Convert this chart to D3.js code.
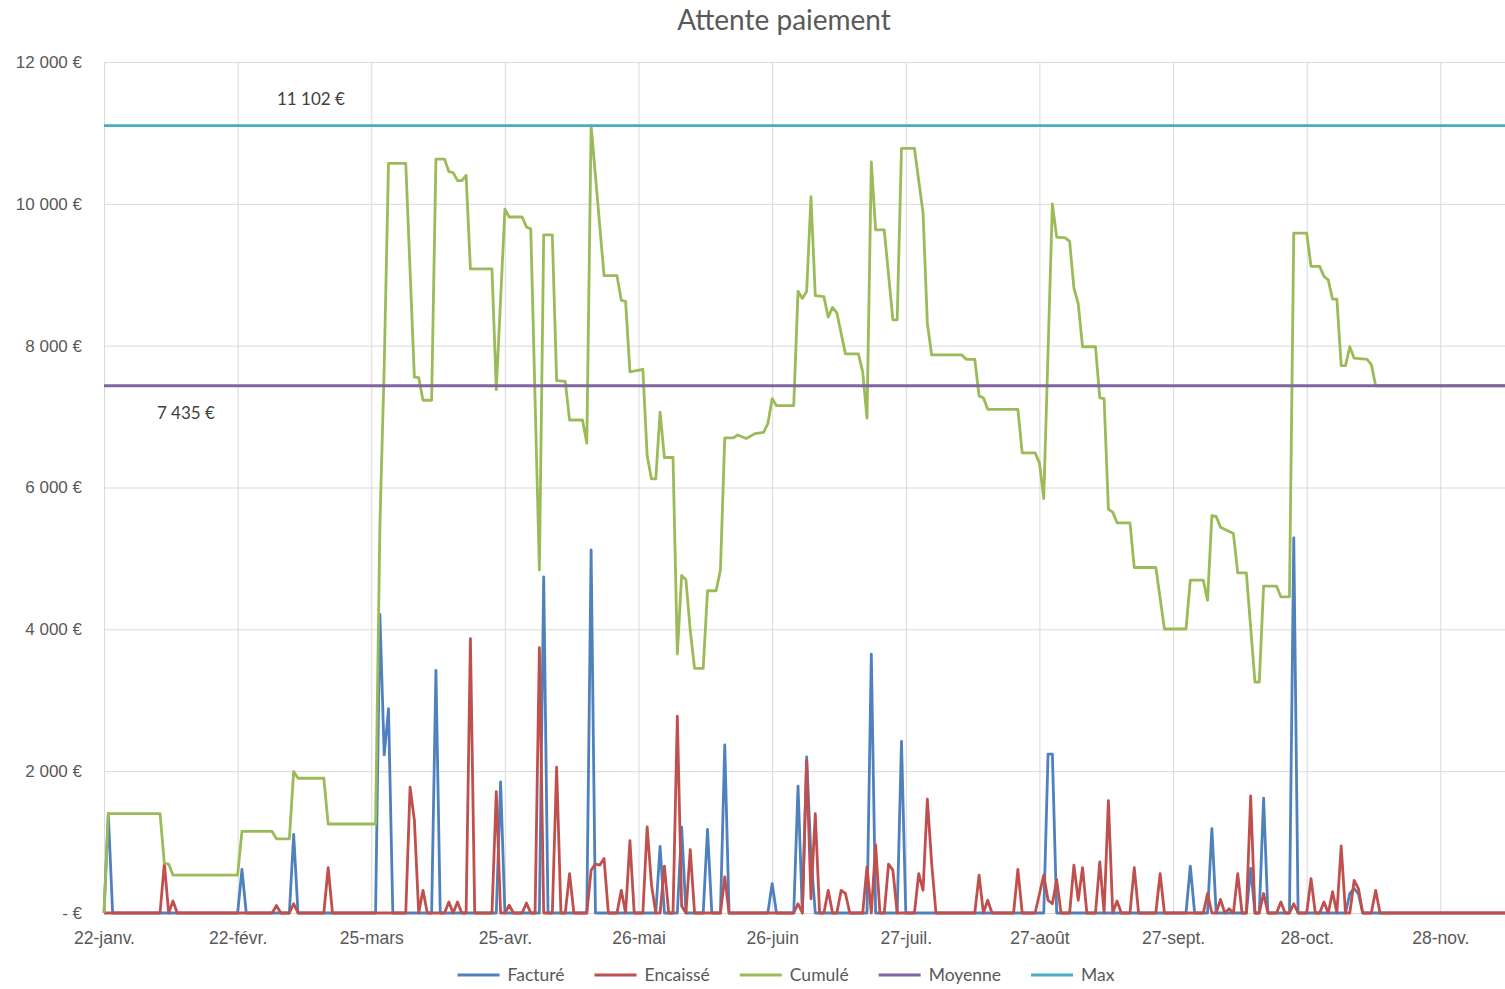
<!DOCTYPE html>
<html>
<head>
<meta charset="utf-8">
<title>Attente paiement</title>
<script src="https://cdn.jsdelivr.net/npm/d3@7"></script>
<style>
  body { margin: 0; background: #ffffff; }
  svg { display: block; font-family: Lato, "Open Sans", sans-serif; }
</style>
</head>
<body>
<div id="chart"></div>
<script>
/*
Attente paiement - daily invoiced / cashed / outstanding amounts
1. Data
2. Scales and axes
3. Lines, labels, legend
*/

/////////////////////////////////////////////////////////////
// 1. Data (day = number of days after the start date)

const startDate = "2019-01-22";
const lastDay = 325;

const tickDates = ["2019-01-22", "2019-02-22", "2019-03-25", "2019-04-25", "2019-05-26", "2019-06-26",
                   "2019-07-27", "2019-08-27", "2019-09-27", "2019-10-28", "2019-11-28"];
const tickLabels = ["22-janv.", "22-févr.", "25-mars", "25-avr.", "26-mai", "26-juin",
                    "27-juil.", "27-août", "27-sept.", "28-oct.", "28-nov."];
const yTicks = [0, 2000, 4000, 6000, 8000, 10000, 12000];

const seriesNames = ["Facturé", "Encaissé", "Cumulé", "Moyenne", "Max"];

// Facturé [day, €]
const facture = [
  [0, 0], [1, 1400], [2, 0], [31, 0], [32, 615], [33, 0], [43, 0], [44, 1110], [45, 0],
  [63, 0], [64, 4210], [65, 2230], [66, 2880], [67, 0], [76, 0], [77, 3420], [78, 0],
  [91, 0], [92, 1850], [93, 0], [101, 0], [102, 4740], [103, 0], [112, 0], [113, 5120], [114, 0],
  [128, 0], [129, 940], [130, 0], [133, 0], [134, 1210], [135, 0], [139, 0], [140, 1180], [141, 0],
  [143, 0], [144, 2370], [145, 0], [154, 0], [155, 415], [156, 0],
  [160, 0], [161, 1790], [162, 0], [163, 2200], [164, 800], [165, 0],
  [177, 0], [178, 3650], [179, 0], [184, 0], [185, 2420], [186, 0],
  [218, 0], [219, 2240], [220, 2240], [221, 0], [251, 0], [252, 660], [253, 0],
  [256, 0], [257, 1190], [258, 0], [265, 0], [266, 630], [267, 0], [268, 0], [269, 1620], [270, 0],
  [275, 0], [276, 5290], [277, 0], [288, 0], [289, 275], [290, 345], [291, 270], [292, 0],
  [325, 0]
];

// Encaissé [day, €]
const encaisse = [
  [0, 0], [13, 0], [14, 700], [15, 0], [16, 170], [17, 0], [39, 0], [40, 105], [41, 0],
  [43, 0], [44, 130], [45, 0], [51, 0], [52, 640], [53, 0],
  [70, 0], [71, 1775], [72, 1310], [73, 0], [74, 320], [75, 0], [79, 0], [80, 155], [81, 0], [82, 155], [83, 0],
  [84, 0], [85, 3870], [86, 0], [90, 0], [91, 1710], [92, 0], [93, 0], [94, 110], [95, 0],
  [97, 0], [98, 140], [99, 0], [100, 0], [101, 3740], [102, 0], [104, 0], [105, 2055], [106, 0],
  [107, 0], [108, 555], [109, 0], [112, 0], [113, 605], [114, 690], [115, 675], [116, 770], [117, 0],
  [119, 0], [120, 320], [121, 0], [122, 1020], [123, 0], [125, 0], [126, 1215], [127, 400], [128, 0],
  [129, 0], [130, 660], [131, 0], [132, 0], [133, 2775], [134, 100], [135, 0], [136, 895], [137, 0],
  [143, 0], [144, 510], [145, 0], [160, 0], [161, 130], [162, 0], [163, 2150], [164, 200], [165, 1400], [166, 0],
  [167, 0], [168, 320], [169, 0], [170, 0], [171, 320], [172, 275], [173, 0],
  [176, 0], [177, 650], [178, 0], [179, 960], [180, 0], [181, 0], [182, 690], [183, 605], [184, 0],
  [188, 0], [189, 555], [190, 320], [191, 1605], [192, 700], [193, 0],
  [202, 0], [203, 535], [204, 0], [205, 180], [206, 0], [211, 0], [212, 615], [213, 0],
  [216, 0], [218, 535], [219, 180], [220, 130], [221, 470], [222, 0],
  [224, 0], [225, 675], [226, 180], [227, 640], [228, 0],
  [230, 0], [231, 720], [232, 0], [233, 1585], [234, 0], [235, 170], [236, 0],
  [238, 0], [239, 640], [240, 0], [244, 0], [245, 555], [246, 0],
  [255, 0], [256, 275], [257, 0], [258, 0], [259, 190], [260, 0], [261, 60], [262, 0], [263, 555], [264, 0],
  [265, 0], [266, 1650], [267, 0], [268, 0], [269, 275], [270, 0], [272, 0], [273, 155], [274, 0],
  [275, 0], [276, 130], [277, 0], [279, 0], [280, 485], [281, 0],
  [282, 0], [283, 155], [284, 0], [285, 300], [286, 0], [287, 945], [288, 0],
  [289, 0], [290, 460], [291, 345], [292, 0], [294, 0], [295, 320], [296, 0],
  [325, 0]
];

// Cumulé [day, €]
const cumule = [
  [0, 0], [1, 1400], [13, 1400], [14, 700], [15, 690], [16, 535], [31, 535], [32, 1150], [39, 1150],
  [40, 1045], [43, 1045], [44, 1995], [45, 1900], [51, 1900], [52, 1255], [63, 1255],
  [64, 5465], [65, 7700], [66, 10570], [70, 10570], [72, 7557], [73, 7550], [74, 7230], [76, 7230],
  [77, 10630], [79, 10630], [80, 10453], [81, 10440], [82, 10327], [83, 10327], [84, 10403],
  [85, 9083], [90, 9083], [91, 7380], [93, 9924], [94, 9814], [97, 9814], [98, 9673], [99, 9647],
  [101, 4836], [102, 9562], [104, 9562], [105, 7506], [107, 7496], [108, 6952], [111, 6952],
  [112, 6625], [113, 11102], [116, 8987], [119, 8987], [120, 8640], [121, 8625], [122, 7632],
  [125, 7667], [126, 6448], [127, 6121], [128, 6121], [129, 7063], [130, 6423], [132, 6423],
  [133, 3652], [134, 4760], [135, 4695], [136, 3980], [137, 3450], [139, 3450], [140, 4544],
  [142, 4544], [143, 4836], [144, 6700], [146, 6700], [147, 6740], [149, 6690], [151, 6760],
  [153, 6776], [154, 6900], [155, 7254], [156, 7154], [160, 7154], [161, 8766], [162, 8665],
  [163, 8766], [164, 10100], [165, 8705], [167, 8690], [168, 8403], [169, 8539], [170, 8463],
  [172, 7884], [175, 7884], [176, 7632], [177, 6977], [178, 10590], [179, 9632], [181, 9632],
  [183, 8363], [184, 8363], [185, 10781], [188, 10781], [190, 9874], [191, 8312], [192, 7869],
  [199, 7869], [200, 7808], [202, 7808], [203, 7290], [204, 7264], [205, 7103], [212, 7103],
  [213, 6489], [216, 6489], [217, 6348], [218, 5844], [220, 10000], [221, 9531], [223, 9521],
  [224, 9471], [225, 8816], [226, 8589], [227, 7985], [230, 7985], [231, 7264], [232, 7254],
  [233, 5693], [234, 5653], [235, 5502], [238, 5502], [239, 4872], [244, 4872], [246, 4005],
  [251, 4005], [252, 4695], [255, 4695], [256, 4408], [257, 5602], [258, 5592], [259, 5441],
  [262, 5350], [263, 4796], [265, 4796], [267, 3255], [268, 3255], [269, 4610], [272, 4610],
  [273, 4458], [275, 4458], [276, 9587], [279, 9587], [280, 9118], [282, 9118], [283, 8977],
  [284, 8927], [285, 8655], [286, 8655], [287, 7718], [288, 7718], [289, 7985], [290, 7824],
  [293, 7808], [294, 7733], [295, 7435], [325, 7435]
];

const moyenne = 7435;
const maximum = 11102;

/////////////////////////////////////////////////////////////
// 2. Scales and axes

const W = 1505, H = 989;
const margin = {top: 62, right: 0, bottom: 76, left: 104};
const width = W - margin.left - margin.right,
      height = H - margin.top - margin.bottom;

const colors = ["#4F81BD", "#C0504D", "#9BBB59", "#8064A2", "#4BACC6"];
const textColor = "#595959";

const parseDate = d3.utcParse("%Y-%m-%d");
const start = parseDate(startDate);
const toDate = day => d3.utcDay.offset(start, day);

const svg = d3.select("#chart")
  .append("svg")
  .attr("width", W)
  .attr("height", H);

const g = svg.append("g")
  .attr("transform", "translate(" + margin.left + "," + margin.top + ")");

const x = d3.scaleUtc()
  .domain([start, toDate(lastDay)])
  .range([0, width]);

const y = d3.scaleLinear()
  .domain([0, 12000])
  .range([height, 0]);

// horizontal gridlines + y labels
const yFormat = d => d === 0 ? "-\u00a0€" : d3.format(",")(d).replace(/,/g, "\u00a0") + "\u00a0€";

g.append("g")
  .attr("class", "y-axis")
  .call(d3.axisLeft(y).tickValues(yTicks).tickSize(-width).tickPadding(22).tickFormat(yFormat))
  .call(ax => ax.select(".domain").remove())
  .call(ax => ax.selectAll(".tick line").attr("stroke", "#d9d9d9").attr("stroke-width", 1))
  .call(ax => ax.selectAll(".tick text").attr("fill", textColor).style("font-size", "17px"));

// vertical gridlines + x labels
const ticks = tickDates.map(parseDate);
g.append("g")
  .attr("class", "x-axis")
  .attr("transform", "translate(0," + height + ")")
  .call(d3.axisBottom(x).tickValues(ticks).tickSize(-height).tickPadding(19)
          .tickFormat((d, i) => tickLabels[i]))
  .call(ax => ax.select(".domain").remove())
  .call(ax => ax.selectAll(".tick line").attr("stroke", "#d9d9d9").attr("stroke-width", 1))
  .call(ax => ax.selectAll(".tick text").attr("fill", textColor).style("font-size", "17.5px"));

/////////////////////////////////////////////////////////////
// 3. Lines, labels, legend

const line = d3.line()
  .x(d => x(toDate(d[0])))
  .y(d => y(d[1]));

const allSeries = [
  facture,
  encaisse,
  cumule,
  [[0, moyenne], [lastDay, moyenne]],
  [[0, maximum], [lastDay, maximum]]
];

g.selectAll(".serie")
  .data(allSeries)
  .enter()
  .append("path")
  .attr("class", "serie")
  .attr("fill", "none")
  .attr("stroke", (d, i) => colors[i])
  .attr("stroke-width", 2.8)
  .attr("stroke-linejoin", "round")
  .attr("d", line);

// value labels for Max and Moyenne
g.append("text")
  .attr("x", x(toDate(48)))
  .attr("y", y(maximum) - 27)
  .attr("dy", "0.35em")
  .attr("text-anchor", "middle")
  .attr("fill", "#404040")
  .style("font-size", "17px")
  .text(yFormat(maximum));

g.append("text")
  .attr("x", x(toDate(19.5)))
  .attr("y", y(moyenne) + 27)
  .attr("dy", "0.35em")
  .attr("text-anchor", "middle")
  .attr("fill", "#404040")
  .style("font-size", "17px")
  .text(yFormat(moyenne));

// title
svg.append("text")
  .attr("x", 784)
  .attr("y", 20)
  .attr("dy", "0.35em")
  .attr("text-anchor", "middle")
  .attr("fill", textColor)
  .style("font-size", "28px")
  .text("Attente paiement");

// legend (kept just inside the bottom edge)
const legend = svg.append("g").attr("class", "legend");
const items = legend.selectAll(".item")
  .data(seriesNames)
  .enter()
  .append("g")
  .attr("class", "item");

items.append("line")
  .attr("x1", 0).attr("x2", 42)
  .attr("y1", 0).attr("y2", 0)
  .attr("stroke", (d, i) => colors[i])
  .attr("stroke-width", 2.8);

items.append("text")
  .attr("x", 50)
  .attr("dy", "0.35em")
  .attr("fill", textColor)
  .style("font-size", "17.5px")
  .text(d => d);

// place items one after another, centered
let offset = 0;
items.each(function() {
  const w = 50 + this.querySelector("text").getComputedTextLength();
  d3.select(this).attr("transform", "translate(" + offset + ",0)");
  offset += w + 30;
});
const total = offset - 30;
legend.attr("transform", "translate(" + (786 - total / 2) + "," + 975 + ")");
</script>
</body>
</html>
